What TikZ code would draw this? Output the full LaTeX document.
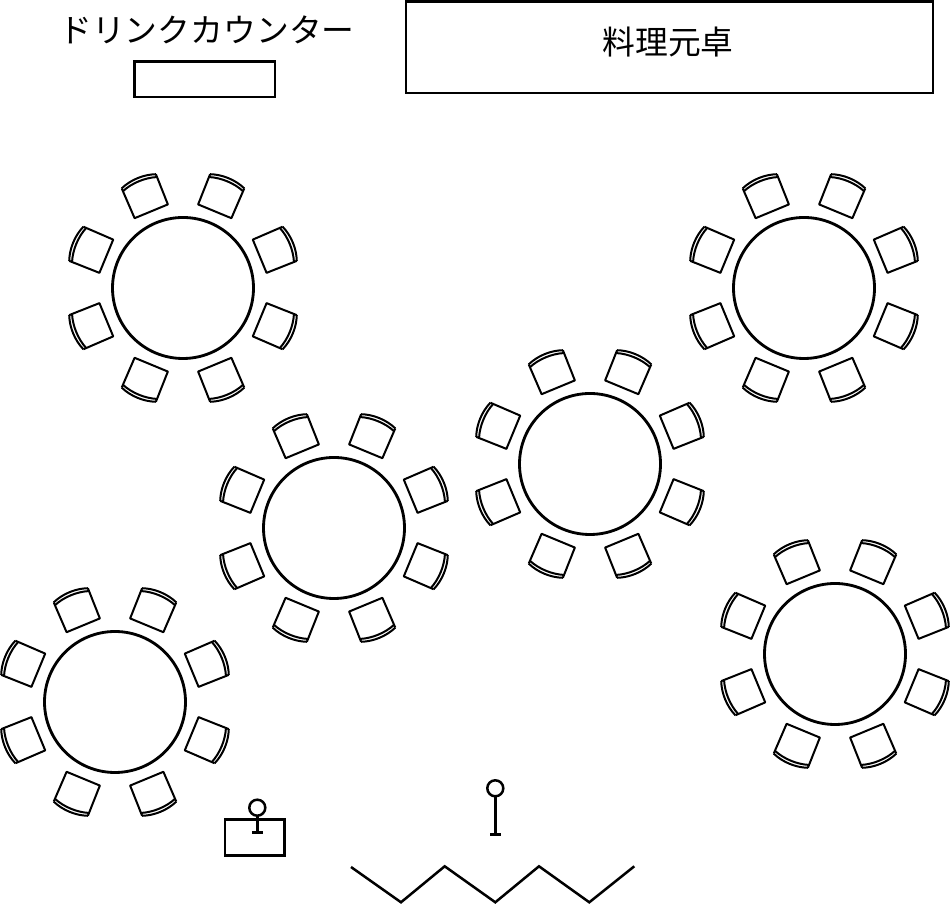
\documentclass[tikz,border=0pt]{standalone}
\usepackage{fontspec}
\setmainfont{Noto Sans CJK JP}
\tikzset{
  tableline/.style={line width=0.85mm},
  chairline/.style={line width=0.6mm,line join=round},
  boxline/.style={line width=0.75mm},
  label/.style={font=\fontsize{28pt}{30pt}\selectfont,inner sep=0pt}
}

\begin{document}
\begin{tikzpicture}[x=0.3mm,y=0.3mm]
  \useasboundingbox (0,0) rectangle (950,904);
  % counters
  \node[label] (drink) at (207,874) {ドリンクカウンター};
  \node[label] (dish) at (668,862) {料理元卓};
  \draw[boxline] (134.5,807) rectangle (275,842.5);
  \draw[boxline] (406,811) rectangle (933,902.5);
  % tables with eight chairs each
  \foreach \cx/\cy in {183/616, 804/616, 590/440, 334/376, 115/202, 835/250} {
    \begin{scope}[shift={(\cx,\cy)}]
    \draw[tableline] (0,0) circle (70.5);
    \foreach \a in {22.5,67.5,...,337.5} {
      \begin{scope}[rotate=\a,chairline]
      \draw (115.5,18.5) -- (83,18) -- (83,-18) -- (115.5,-18.5);
      \draw (115.5,-18.5) .. controls (120,-7) and (120,7) .. (115.5,18.5);
      \draw (112.5,-18.3) .. controls (116.5,-7) and (116.5,7) .. (112.5,18.3);
      \end{scope}
    }
    \end{scope}
  }
  % stage side
  \draw[boxline] (225,48.5) rectangle (284.5,84.5);
  \draw[boxline] (257.3,96.3) circle (8);
  \draw[boxline] (257.3,88.3) -- (257.3,71.5);
  \draw[boxline] (252,71.5) -- (262.5,71.5);
  \draw[boxline] (495.3,115.7) circle (8);
  \draw[boxline] (495.3,107.7) -- (495.3,69.5);
  \draw[boxline] (490,69.5) -- (501,69.5);
  \draw[boxline] (351,37) -- (401,1.7) -- (444.7,37.7) -- (495.3,1.7)
    -- (539,37.7) -- (589.3,1.7) -- (634.3,37.7);
\end{tikzpicture}
\end{document}
